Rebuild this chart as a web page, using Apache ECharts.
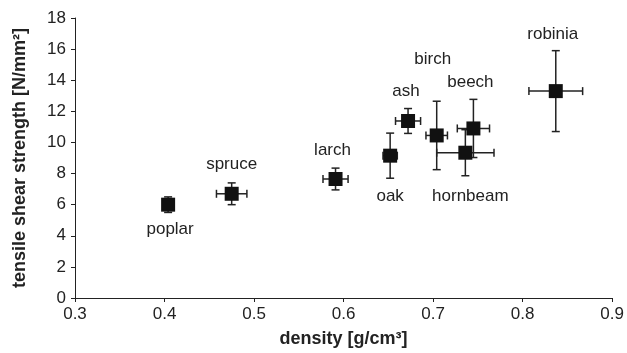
<!DOCTYPE html>
<html>
<head>
<meta charset="utf-8">
<script src="https://cdn.jsdelivr.net/npm/echarts@6/dist/echarts.min.js"></script>
<style>
  html, body { margin: 0; padding: 0; background: #fff; }
  #chart { width: 627px; height: 353px; }
</style>
</head>
<body>
<div id="chart"></div>
<script>
// wood species, density and tensile shear strength (means + spread)
var species = ['poplar', 'spruce', 'larch', 'oak', 'ash', 'birch', 'hornbeam', 'beech', 'robinia'];
var density = [0.404, 0.475, 0.591, 0.652, 0.672, 0.704, 0.736, 0.745, 0.837];
var densityErr = [0.004, 0.017, 0.014, 0.008, 0.014, 0.012, 0.032, 0.018, 0.030];
var strength = [6.0, 6.7, 7.65, 9.15, 11.38, 10.45, 9.34, 10.9, 13.3];
var strengthErr = [0.5, 0.7, 0.7, 1.45, 0.8, 2.2, 1.48, 1.87, 2.6];

var xTicks = [0.3, 0.4, 0.5, 0.6, 0.7, 0.8, 0.9];
var yTicks = [0, 2, 4, 6, 8, 10, 12, 14, 16, 18];

// label nudges from the marker centre
var labelOffset = {
    poplar: [2, 25],
    spruce: [0, -29],
    larch: [-3, -29],
    oak: [0, 41],
    ash: [-2, -30],
    birch: [-4, -76],
    hornbeam: [5, 44],
    beech: [-3, -46],
    robinia: [-3, -57]
};

var font = 'Liberation Sans, Arial, sans-serif';

var pts = species.map(function (name, i) {
    return {
        name: name,
        value: [density[i], strength[i]],
        label: { show: true, formatter: name, position: 'inside', offset: labelOffset[name] }
    };
});

var errData = species.map(function (name, i) {
    return [density[i], strength[i], densityErr[i], strengthErr[i]];
});

function renderErr(params, api) {
    var x = api.value(0), y = api.value(1), dx = api.value(2), dy = api.value(3);
    var c = api.coord([x, y]);
    var l = api.coord([x - dx, y]), r = api.coord([x + dx, y]);
    var t = api.coord([x, y + dy]), b = api.coord([x, y - dy]);
    var cap = 4;
    var st = { stroke: '#222', lineWidth: 1.5 };
    var lines = [
        [l[0], c[1], r[0], c[1]],
        [l[0], c[1] - cap, l[0], c[1] + cap],
        [r[0], c[1] - cap, r[0], c[1] + cap],
        [c[0], t[1], c[0], b[1]],
        [c[0] - cap, t[1], c[0] + cap, t[1]],
        [c[0] - cap, b[1], c[0] + cap, b[1]]
    ];
    return {
        type: 'group',
        children: lines.map(function (s) {
            return { type: 'line', shape: { x1: s[0], y1: s[1], x2: s[2], y2: s[3] }, style: st };
        })
    };
}

var chart = echarts.init(document.getElementById('chart'));

chart.setOption({
    animation: false,
    backgroundColor: '#fff',
    grid: { left: 75, right: 14, top: 18, bottom: 55 },
    xAxis: {
        type: 'value',
        min: xTicks[0],
        max: xTicks[xTicks.length - 1],
        interval: 0.1,
        name: 'density [g/cm³]',
        nameLocation: 'middle',
        nameGap: 32,
        nameTextStyle: { fontFamily: font, fontWeight: 'bold', fontSize: 18, color: '#222' },
        axisLine: { onZero: false, lineStyle: { color: '#222', width: 1 } },
        axisTick: { show: true, length: 4, lineStyle: { color: '#222' } },
        axisLabel: {
            fontFamily: font, fontSize: 17, color: '#222', margin: 8,
            formatter: function (v) { return v.toFixed(1); }
        },
        splitLine: { show: false }
    },
    yAxis: {
        type: 'value',
        min: yTicks[0],
        max: yTicks[yTicks.length - 1],
        interval: 2,
        name: 'tensile shear strength [N/mm²]',
        nameLocation: 'middle',
        nameGap: 46,
        nameTextStyle: { fontFamily: font, fontWeight: 'bold', fontSize: 18, color: '#222' },
        axisLine: { show: true, lineStyle: { color: '#222', width: 1 } },
        axisTick: { show: true, length: 4, lineStyle: { color: '#222' } },
        axisLabel: { fontFamily: font, fontSize: 17, color: '#222', margin: 9 },
        splitLine: { show: false }
    },
    series: [
        {
            type: 'custom',
            renderItem: renderErr,
            data: errData,
            encode: { x: 0, y: 1 },
            z: 2,
            silent: true
        },
        {
            type: 'scatter',
            symbol: 'rect',
            symbolSize: 14,
            itemStyle: { color: '#111', opacity: 1 },
            label: { fontFamily: font, fontSize: 17, color: '#222' },
            data: pts,
            z: 3
        }
    ]
});
</script>
</body>
</html>
